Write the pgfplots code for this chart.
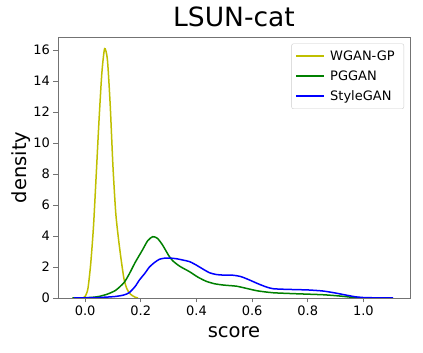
\documentclass[border=0pt]{standalone}
\usepackage{fontspec}
\setmainfont{DejaVu Sans}
\usepackage{pgfplots}
\pgfplotsset{compat=1.18}

\definecolor{mplY}{rgb}{0.75,0.75,0}
\definecolor{mplG}{rgb}{0,0.5,0}
\definecolor{mplB}{rgb}{0,0,1}

\begin{document}
\begin{tikzpicture}
\path[use as bounding box] (-58pt,-55pt) rectangle (365pt,298pt);
\begin{axis}[
  scale only axis, width=352pt, height=261pt,
  at={(0,0)}, anchor=south west,
  xmin=-0.0975, xmax=1.1675, ymin=0, ymax=16.85,
  xtick={0,0.2,0.4,0.6,0.8,1.0},
  xticklabels={0.0,0.2,0.4,0.6,0.8,1.0},
  ytick={0,2,4,6,8,10,12,14,16},
  /pgf/number format/assume math mode=true,
  tick label style={font=\fontsize{13}{15}\selectfont, text=black},
  tick align=outside, tick pos=left,
  major tick length=4.5pt,
  every tick/.style={black!55, line width=0.9pt},
  axis line style={black!55, line width=0.9pt},
  xlabel={score}, ylabel={density},
  label style={font=\fontsize{19.5}{22}\selectfont},
  xlabel style={at={(axis description cs:0.5,0)}, anchor=north, yshift=-25pt},
  ylabel style={at={(axis description cs:0,0.5)}, anchor=south, yshift=24pt},
  title={LSUN-cat},
  title style={font=\fontsize{26.5}{30}\selectfont, at={(axis description cs:0.5,1)}, anchor=south, yshift=1pt},
  legend style={at={(axis description cs:0.983,0.975)}, anchor=north east,
    draw=black!20, rounded corners=2pt, font=\fontsize{13}{15}\selectfont,
    row sep=4.7pt, inner xsep=4pt, inner ysep=5pt,
    nodes={inner xsep=5pt}},
  legend cell align=left,
  legend image code/.code={\draw[mark repeat=2,mark phase=2,#1,line width=1.6pt] plot coordinates {(0pt,0pt) (14pt,0pt) (28pt,0pt)};},
  every axis plot/.append style={line width=1.5pt},
]
\addplot[mplY, smooth, tension=0.4] coordinates {
(-0.01,0) (0.0,0.1) (0.01,0.6) (0.02,2.2) (0.03,4.6) (0.04,8.0) (0.05,11.5)
(0.06,14.5) (0.07,16.1) (0.08,15.4) (0.09,12.5) (0.1,8.5) (0.11,5.5)
(0.12,3.8) (0.13,2.4) (0.14,1.2) (0.15,0.6) (0.16,0.3) (0.17,0.15) (0.18,0.05) (0.19,0)
};
\addlegendentry{WGAN-GP}
\addplot[mplG, smooth, tension=0.4] coordinates {
(-0.046,0) (-0.02,0.005) (0.0,0.02) (0.03,0.05) (0.05,0.1) (0.08,0.25) (0.11,0.5)
(0.14,1.0) (0.16,1.6) (0.18,2.3) (0.206,3.1) (0.225,3.7) (0.243,3.96) (0.26,3.85)
(0.279,3.4) (0.3,2.75) (0.315,2.4) (0.34,2.05) (0.375,1.7) (0.405,1.35) (0.435,1.08)
(0.465,0.92) (0.495,0.84) (0.52,0.8) (0.545,0.76) (0.58,0.62) (0.62,0.46) (0.675,0.34)
(0.75,0.28) (0.855,0.21) (0.92,0.12) (0.962,0.04) (1.0,0.01) (1.04,0)
};
\addlegendentry{PGGAN}
\addplot[mplB, smooth, tension=0.4] coordinates {
(-0.04,0) (0.0,0.01) (0.05,0.03) (0.11,0.1) (0.14,0.2) (0.159,0.35) (0.18,0.75)
(0.195,1.16) (0.215,1.6) (0.231,2.0) (0.25,2.3) (0.267,2.5) (0.285,2.57) (0.303,2.58)
(0.33,2.53) (0.351,2.45) (0.375,2.35) (0.399,2.13) (0.425,1.85) (0.447,1.63) (0.47,1.52)
(0.495,1.48) (0.531,1.47) (0.56,1.38) (0.591,1.16) (0.62,0.93) (0.65,0.72) (0.675,0.6)
(0.72,0.56) (0.8,0.52) (0.855,0.45) (0.9,0.32) (0.94,0.18) (0.97,0.08) (1.0,0.03)
(1.05,0.01) (1.107,0)
};
\addlegendentry{StyleGAN}
\end{axis}
\end{tikzpicture}
\end{document}
